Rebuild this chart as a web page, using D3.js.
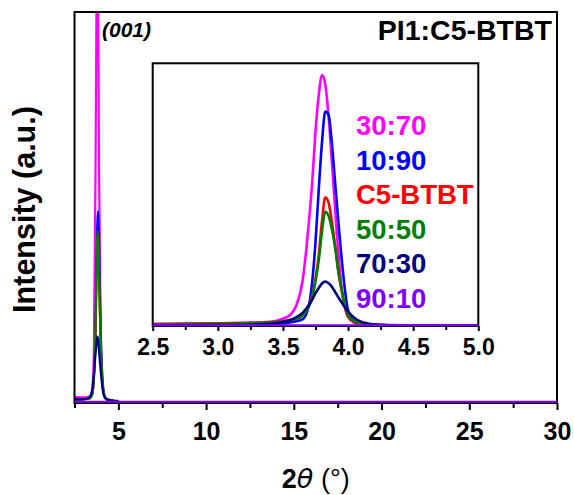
<!DOCTYPE html>
<html>
<head>
<meta charset="utf-8">
<script src="https://cdn.jsdelivr.net/npm/d3@7"></script>
<style>
  html, body { margin: 0; padding: 0; background: #fff; }
  svg { display: block; font-family: "Liberation Sans", Arial, sans-serif; }
</style>
</head>
<body>
<svg id="chart" width="574" height="495"></svg>
<script>
// ---- Series definitions (name, colour), drawn in this order ----
const seriesNames  = ["30:70", "10:90", "C5-BTBT", "50:50", "70:30", "90:10"];
const seriesColors = ["#FF00FF", "#0000FF", "#FF0000", "#008000", "#000080", "#8000FF"];
const legendOrder  = ["30:70", "10:90", "C5-BTBT", "50:50", "70:30", "90:10"];

// ---- Full scan: 2θ grid and intensities (a.u.) ----
const mainTheta = [2.5, 2.8, 3.0, 3.2, 3.3, 3.4, 3.5, 3.6, 3.7, 3.75, 3.8, 3.85, 3.9, 4.0, 4.1, 4.2, 4.3, 4.5, 4.7, 5.0];
const main_30_70 = [15, 13, 13, 14, 15, 17, 30, 120, 600, 1000, 1250, 1000, 600, 150, 40, 15, 8, 5, 4, 3];
const main_10_90 = [8, 8, 8, 9, 10, 12, 20, 60, 200, 340, 460, 490, 400, 180, 60, 20, 10, 6, 4, 3];
const main_C5    = [8, 8, 8, 9, 10, 12, 20, 55, 180, 320, 420, 410, 320, 130, 45, 18, 10, 6, 4, 3];
const main_50_50 = [8, 8, 8, 9, 10, 12, 20, 60, 190, 340, 440, 420, 330, 140, 50, 18, 10, 6, 4, 3];
const main_70_30 = [8, 8, 9, 10, 12, 16, 30, 70, 125, 150, 169, 160, 130, 77, 35, 15, 10, 6, 5, 4];
const mainTheta_90_10 = [2.5, 5, 10, 15, 20, 25, 30];
const main_90_10      = [2, 2, 2, 2, 2, 2, 2];

// ---- Zoomed (001) region ----
const insetTheta = [2.5, 2.75, 3.0, 3.25, 3.4, 3.5, 3.55, 3.6, 3.65, 3.7, 3.725, 3.75, 3.775, 3.8, 3.825, 3.85, 3.875, 3.9, 3.925, 3.95, 4.0, 4.05, 4.1, 4.2, 4.3, 4.5, 5.0];
const inset_30_70 = [0.8, 0.9, 1.0, 1.2, 1.6, 2.8, 4, 7.5, 17, 40, 55, 74, 88, 95.5, 92, 80, 63, 45, 28, 15, 3.5, 1.2, 0.6, 0.4, 0.3, 0.3, 0.3];
const inset_10_90 = [0.3, 0.3, 0.4, 0.5, 0.7, 1.0, 1.3, 1.8, 2.5, 8, 17, 32, 52, 70, 81.6, 80.5, 70, 55, 40, 26, 6, 1.5, 0.8, 0.5, 0.4, 0.3, 0.3];
const inset_C5    = [0.6, 0.8, 1.0, 1.2, 1.4, 1.8, 2.2, 2.8, 4, 7.8, 11.5, 18, 27, 40, 49, 47, 40, 31, 21, 13.5, 3.5, 1.5, 0.8, 0.5, 0.3, 0.3, 0.3];
const inset_50_50 = [0.5, 0.6, 0.8, 1.0, 1.3, 1.8, 2.2, 2.8, 4, 7.5, 11, 17, 25, 36, 43.5, 42, 37, 30, 21, 14, 4, 1.8, 1.0, 0.5, 0.3, 0.3, 0.3];
const inset_70_30 = [0.3, 0.3, 0.4, 0.5, 0.8, 1.5, 2.2, 3.3, 5, 8, 10, 12.5, 14.5, 16.2, 16.9, 16.3, 15, 13, 11, 9, 5.5, 3, 1.6, 0.6, 0.3, 0.2, 0.2];
const inset_90_10 = [0.3, 0.3, 0.3, 0.3, 0.3, 0.3, 0.3, 0.3, 0.3, 0.3, 0.3, 0.3, 0.3, 0.3, 0.3, 0.3, 0.3, 0.3, 0.3, 0.3, 0.3, 0.3, 0.3, 0.3, 0.3, 0.3, 0.3];

// ---- Axis ticks ----
const mainTicks       = [5, 10, 15, 20, 25, 30];
const mainMinorTicks  = [2.5, 7.5, 12.5, 17.5, 22.5, 27.5];
const insetTicks      = [2.5, 3.0, 3.5, 4.0, 4.5, 5.0];
const insetMinorTicks = [2.75, 3.25, 3.75, 4.25, 4.75];

const zip = (xs, ys) => xs.map((x, i) => [x, ys[i]]);
const mainData = {
  "30:70": zip(mainTheta, main_30_70),
  "10:90": zip(mainTheta, main_10_90),
  "C5-BTBT": zip(mainTheta, main_C5),
  "50:50": zip(mainTheta, main_50_50),
  "70:30": zip(mainTheta, main_70_30),
  "90:10": zip(mainTheta_90_10, main_90_10)
};
const insetData = {
  "30:70": zip(insetTheta, inset_30_70),
  "10:90": zip(insetTheta, inset_10_90),
  "C5-BTBT": zip(insetTheta, inset_C5),
  "50:50": zip(insetTheta, inset_50_50),
  "70:30": zip(insetTheta, inset_70_30),
  "90:10": zip(insetTheta, inset_90_10)
};
const colorOf = d3.scaleOrdinal().domain(seriesNames).range(seriesColors);

const svg = d3.select("#chart");

// ---- Main panel ----
const M = { left: 74.5, right: 557, top: 12, bottom: 403 };
const x = d3.scaleLinear().domain([2.5, 30]).range([M.left, M.right]);
const y = d3.scaleLinear().domain([0, 1000]).range([M.bottom - 0.5, M.top]);

svg.append("clipPath").attr("id", "clipMain")
  .append("rect").attr("x", M.left).attr("y", M.top)
  .attr("width", M.right - M.left).attr("height", M.bottom - M.top);

const lineMain = d3.line().x(d => x(d[0])).y(d => y(d[1])).curve(d3.curveMonotoneX);
const gMain = svg.append("g").attr("clip-path", "url(#clipMain)");
seriesNames.filter(n => n !== "90:10").forEach(n => {
  gMain.append("path").datum(mainData[n])
    .attr("fill", "none").attr("stroke", colorOf(n)).attr("stroke-width", 2.2)
    .attr("stroke-linejoin", "round").attr("d", lineMain);
});

// x axis with major + minor ticks
const xAxis = d3.axisBottom(x).tickValues(mainTicks).tickSize(7).tickFormat(d3.format("d"));
const gx = svg.append("g").attr("transform", `translate(0,${M.bottom})`).call(xAxis);
gx.select(".domain").remove();
gx.selectAll(".tick line").attr("stroke", "#000").attr("stroke-width", 2);
gx.selectAll(".tick text").attr("fill", "#000").attr("font-size", 25).attr("font-weight", "bold")
  .attr("y", 37).attr("dy", null);
const gxm = svg.append("g").attr("transform", `translate(0,${M.bottom})`)
  .call(d3.axisBottom(x).tickValues(mainMinorTicks).tickSize(5).tickFormat(""));
gxm.select(".domain").remove();
gxm.selectAll(".tick line").attr("stroke", "#000").attr("stroke-width", 2);

// frame
svg.append("rect").attr("x", M.left).attr("y", M.top)
  .attr("width", M.right - M.left).attr("height", M.bottom - M.top)
  .attr("fill", "none").attr("stroke", "#000").attr("stroke-width", 2);

// the flat 90:10 trace runs along the bottom edge, drawn over the frame
svg.append("path").datum(mainData["90:10"])
  .attr("fill", "none").attr("stroke", colorOf("90:10")).attr("stroke-width", 2)
  .attr("d", lineMain);

// labels
svg.append("text").attr("x", 102).attr("y", 37)
  .attr("font-size", 21).attr("font-weight", "bold").attr("font-style", "italic")
  .text("(001)");
svg.append("text").attr("x", 552).attr("y", 40).attr("text-anchor", "end")
  .attr("font-size", 28.5).attr("font-weight", "bold").text("PI1:C5-BTBT");

const xt = svg.append("text").attr("x", (M.left + M.right) / 2).attr("y", 488)
  .attr("text-anchor", "middle").attr("font-size", 27).attr("font-weight", "bold");
xt.append("tspan").text("2");
xt.append("tspan").attr("font-style", "italic").attr("font-family", "DejaVu Sans").attr("font-weight", "normal").text("θ");
xt.append("tspan").attr("font-weight", "normal").text(" (°)");

svg.append("text")
  .attr("transform", `translate(35,${(M.top + M.bottom) / 2 + 2}) rotate(-90)`)
  .attr("text-anchor", "middle").attr("font-size", 30.5).attr("font-weight", "bold")
  .text("Intensity (a.u.)");

// ---- Inset panel ----
const I = { left: 152.7, right: 478.3, top: 63.3, bottom: 326 };
const xi = d3.scaleLinear().domain([2.5, 5.0]).range([I.left, I.right]);
const yi = d3.scaleLinear().domain([0, 100]).range([I.bottom, I.top]);

svg.append("rect").attr("x", I.left).attr("y", I.top)
  .attr("width", I.right - I.left).attr("height", I.bottom - I.top).attr("fill", "#fff");
svg.append("clipPath").attr("id", "clipInset")
  .append("rect").attr("x", I.left).attr("y", I.top)
  .attr("width", I.right - I.left).attr("height", I.bottom - I.top);

const lineInset = d3.line().x(d => xi(d[0])).y(d => yi(d[1])).curve(d3.curveMonotoneX);
const gInset = svg.append("g").attr("clip-path", "url(#clipInset)");
seriesNames.filter(n => n !== "90:10").forEach(n => {
  gInset.append("path").datum(insetData[n])
    .attr("fill", "none").attr("stroke", colorOf(n)).attr("stroke-width", 2.6)
    .attr("stroke-linejoin", "round").attr("d", lineInset);
});

const xiAxis = d3.axisBottom(xi).tickValues(insetTicks).tickSize(5).tickFormat(d3.format(".1f"));
const gxi = svg.append("g").attr("transform", `translate(0,${I.bottom})`).call(xiAxis);
gxi.select(".domain").remove();
gxi.selectAll(".tick line").attr("stroke", "#000").attr("stroke-width", 2);
gxi.selectAll(".tick text").attr("fill", "#000").attr("font-size", 23).attr("font-weight", "bold")
  .attr("y", 29).attr("dy", null);
const gxim = svg.append("g").attr("transform", `translate(0,${I.bottom})`)
  .call(d3.axisBottom(xi).tickValues(insetMinorTicks).tickSize(4).tickFormat(""));
gxim.select(".domain").remove();
gxim.selectAll(".tick line").attr("stroke", "#000").attr("stroke-width", 2);

svg.append("rect").attr("x", I.left).attr("y", I.top)
  .attr("width", I.right - I.left).attr("height", I.bottom - I.top)
  .attr("fill", "none").attr("stroke", "#000").attr("stroke-width", 2);

svg.append("path").datum(insetData["90:10"])
  .attr("fill", "none").attr("stroke", colorOf("90:10")).attr("stroke-width", 2)
  .attr("d", lineInset);

// legend
const leg = svg.append("g");
legendOrder.forEach((n, i) => {
  leg.append("text").attr("x", 356).attr("y", 135 + i * 34.6)
    .attr("font-size", 27.5).attr("font-weight", "bold")
    .attr("fill", colorOf(n)).text(n);
});
</script>
</body>
</html>
